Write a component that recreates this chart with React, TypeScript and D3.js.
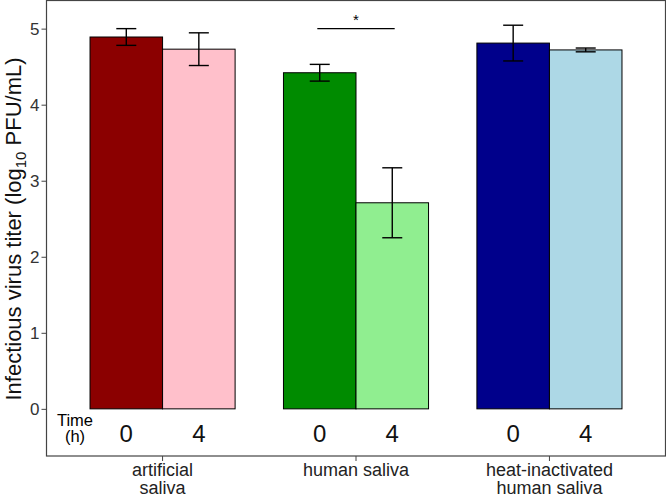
import { useEffect, useRef } from "react";
import * as d3 from "d3";

const categories = ["artificial saliva", "human saliva", "heat-inactivated human saliva"];
const categoryLines = [["artificial", "saliva"], ["human saliva"], ["heat-inactivated", "human saliva"]];
const times = ["0", "4"];
const means0 = [4.89, 4.42, 4.81];
const means4 = [4.73, 2.71, 4.72];
const err0 = [0.11, 0.11, 0.235];
const err4 = [0.215, 0.46, 0.025];
const colors0 = ["#8B0000", "#008B00", "#00008B"];
const colors4 = ["#FFC0CB", "#90EE90", "#ADD8E6"];
const yTicks = [0, 1, 2, 3, 4, 5];
const sigGroup = "human saliva";
const sigLevel = 5.0;

export default function App() {
    const svgRef = useRef(null);

    useEffect(() => {
        const width = 666, height = 497;
        const font = "'Liberation Sans', Arial, sans-serif";
        const panel = { left: 46.5, right: 665.5, top: 0.5, bottom: 456 };

        const svg = d3.select(svgRef.current)
            .attr("width", width)
            .attr("height", height);
        svg.selectAll("*").remove();

        svg.append("rect").attr("width", width).attr("height", height).attr("fill", "white");

        // scales
        var x = d3.scaleBand()
            .domain(categories)
            .range([panel.left, panel.right])
            .paddingInner(0.25)
            .paddingOuter(0.225);
        var xSub = d3.scaleBand().domain(times).range([0, x.bandwidth()]);
        var y = d3.scaleLinear().domain([-0.62, 5.37]).range([panel.bottom, panel.top]);

        const rows = categories.flatMap((c, i) => [
            { cat: c, time: "0", mean: means0[i], err: err0[i], fill: colors0[i] },
            { cat: c, time: "4", mean: means4[i], err: err4[i], fill: colors4[i] },
        ]);

        // bars
        svg.append("g").selectAll("rect")
            .data(rows)
            .join("rect")
            .attr("x", (d) => x(d.cat) + xSub(d.time))
            .attr("width", xSub.bandwidth())
            .attr("y", (d) => y(d.mean))
            .attr("height", (d) => y(0) - y(d.mean))
            .attr("fill", (d) => d.fill)
            .attr("stroke", "black")
            .attr("stroke-width", 1);

        // error bars
        const capW = 10;
        const eb = svg.append("g").attr("stroke", "black").attr("stroke-width", 1.4);
        rows.forEach((d) => {
            const cx = x(d.cat) + xSub(d.time) + xSub.bandwidth() / 2;
            eb.append("line").attr("x1", cx).attr("x2", cx).attr("y1", y(d.mean + d.err)).attr("y2", y(d.mean - d.err));
            eb.append("line").attr("x1", cx - capW).attr("x2", cx + capW).attr("y1", y(d.mean + d.err)).attr("y2", y(d.mean + d.err));
            eb.append("line").attr("x1", cx - capW).attr("x2", cx + capW).attr("y1", y(d.mean - d.err)).attr("y2", y(d.mean - d.err));
        });

        // significance bracket
        const sx = x(sigGroup) + x.bandwidth() / 2;
        const half = x.step() * 0.2;
        svg.append("line")
            .attr("x1", sx - half).attr("x2", sx + half)
            .attr("y1", y(sigLevel)).attr("y2", y(sigLevel))
            .attr("stroke", "black").attr("stroke-width", 1.3);
        svg.append("text")
            .attr("x", sx).attr("y", y(sigLevel) - 4)
            .attr("text-anchor", "middle")
            .attr("font-family", font).attr("font-size", 15)
            .text("*");

        // time labels under the bars
        svg.append("g").selectAll("text")
            .data(rows)
            .join("text")
            .attr("x", (d) => x(d.cat) + xSub(d.time) + xSub.bandwidth() / 2)
            .attr("y", 442)
            .attr("text-anchor", "middle")
            .attr("font-family", font)
            .attr("font-size", 24)
            .attr("fill", "#111")
            .text((d) => d.time);
        svg.append("text").attr("x", 75).attr("y", 426).attr("text-anchor", "middle")
            .attr("font-family", font).attr("font-size", 16.5).text("Time");
        svg.append("text").attr("x", 75).attr("y", 442).attr("text-anchor", "middle")
            .attr("font-family", font).attr("font-size", 16.5).text("(h)");

        // panel border
        svg.append("rect")
            .attr("x", panel.left).attr("y", panel.top)
            .attr("width", panel.right - panel.left).attr("height", panel.bottom - panel.top)
            .attr("fill", "none").attr("stroke", "#444").attr("stroke-width", 1.2);

        // y axis
        const yAxis = svg.append("g")
            .attr("transform", `translate(${panel.left}, 0)`)
            .call(d3.axisLeft(y).tickValues(yTicks).tickSize(5).tickPadding(2).tickFormat(d3.format("d")));
        yAxis.select(".domain").remove();
        yAxis.selectAll("line").attr("stroke", "#444");
        yAxis.selectAll("text").attr("font-family", font).attr("font-size", 17).attr("fill", "#333");

        // x axis
        const xAxis = svg.append("g")
            .attr("transform", `translate(0, ${panel.bottom})`)
            .call(d3.axisBottom(x).tickSize(5).tickFormat(() => ""));
        xAxis.select(".domain").remove();
        xAxis.selectAll("line").attr("stroke", "#444");

        svg.append("g").selectAll("text")
            .data(categories)
            .join("text")
            .attr("x", (d) => x(d) + x.bandwidth() / 2)
            .attr("y", 476)
            .attr("text-anchor", "middle")
            .attr("font-family", font)
            .attr("font-size", 18)
            .attr("fill", "#222")
            .each(function (d, i) {
                const t = d3.select(this);
                categoryLines[i].forEach((line, j) => {
                    t.append("tspan").attr("x", x(d) + x.bandwidth() / 2).attr("dy", j === 0 ? 0 : 17.5).text(line);
                });
            });

        // y label
        const yl = svg.append("text")
            .attr("transform", `translate(21, 229) rotate(-90)`)
            .attr("text-anchor", "middle")
            .attr("font-family", font)
            .attr("font-size", 22)
            .attr("fill", "#111");
        yl.append("tspan").text("Infectious virus titer (log");
        yl.append("tspan").attr("font-size", 15).attr("dy", 5).text("10");
        yl.append("tspan").attr("dy", -5).text(" PFU/mL)");
    }, []);

    return (
        <svg ref={svgRef} style={{ position: "absolute", left: 0, top: 0, display: "block" }}></svg>
    );
}
